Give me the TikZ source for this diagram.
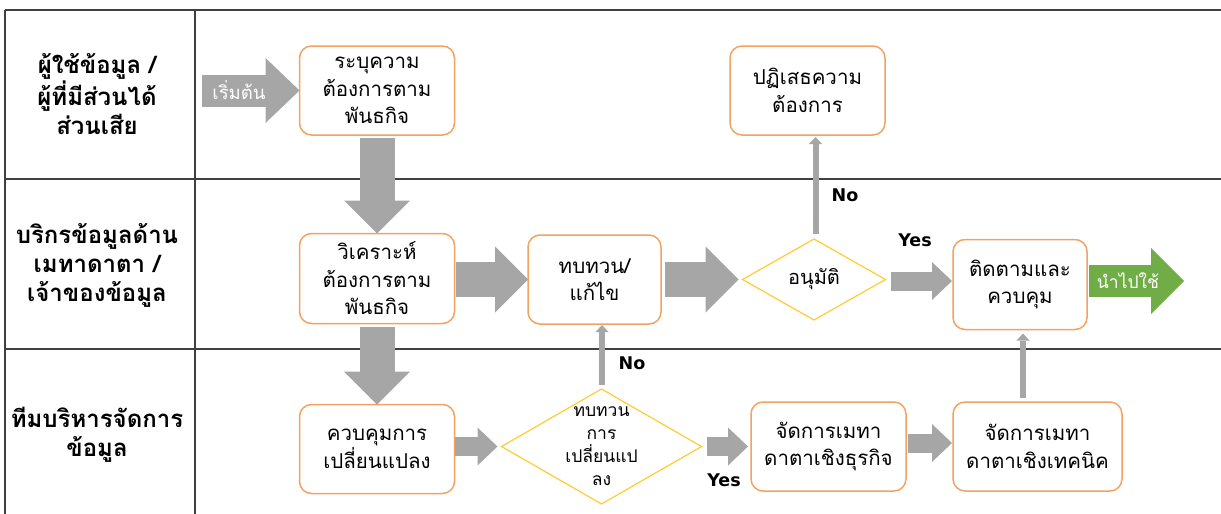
\documentclass[tikz,border=0pt]{standalone}
\usepackage{fontspec}
\usetikzlibrary{arrows.meta,shapes.geometric,calc}
\newfontfamily\thai[Script=Thai]{Loma}
\newfontfamily\labfont{DejaVu Sans}
\definecolor{boxor}{HTML}{F4A261}
\definecolor{diayel}{HTML}{FFCC33}
\definecolor{arrgray}{HTML}{A6A6A6}
\definecolor{arrgreen}{HTML}{70AD47}
\definecolor{gridc}{HTML}{404040}
\begin{document}
\begin{tikzpicture}[x=1pt,y=-1pt,
  grid/.style={draw=gridc,line width=1.3pt},
  rowlab/.style={align=center,font=\thai\bfseries\fontsize{24}{29}\selectfont},
  procbox/.style={draw=boxor,line width=1.5pt,rounded corners=12pt,fill=white,align=center,inner sep=0pt,outer sep=0pt,font=\thai\fontsize{20.5}{27.5}\selectfont},
  decbox/.style={diamond,draw=diayel,line width=1.2pt,fill=white,inner sep=0pt,outer sep=0pt},
  dtext/.style={align=center,inner sep=0pt,font=\thai\fontsize{17.5}{23}\selectfont},
  fatL/.style={draw=arrgray,line width=35pt,-{Triangle[length=33pt,width=66pt,line width=0pt]}},
  fatM/.style={draw=arrgray,line width=19pt,-{Triangle[length=20pt,width=38pt,line width=0pt]}},
  thinarr/.style={draw=arrgray,line width=6pt,-{Triangle[length=7pt,width=13pt,line width=0pt]}},
  yn/.style={font=\labfont\bfseries\fontsize{17.5}{19}\selectfont,inner sep=0pt},
  wtext/.style={text=white,inner sep=0pt,font=\thai\fontsize{17.5}{20}\selectfont}
]
\useasboundingbox (0,0) rectangle (1221,514);
% grid
\draw[grid] (5,10) -- (1221,10);
\draw[grid] (5,179) -- (1221,179);
\draw[grid] (5,349) -- (1221,349);
\draw[grid] (5,10) -- (5,514);
\draw[grid] (195,10) -- (195,514);
% row labels
\node[rowlab] (r1) at (97,94) {ผู้ใช้ข้อมูล /\\ผู้ที่มีส่วนได้\\ส่วนเสีย};
\node[rowlab] (r2) at (97,265) {บริกรข้อมูลด้าน\\เมทาดาตา /\\เจ้าของข้อมูล};
\node[rowlab] (r3) at (97,434.5) {ทีมบริหารจัดการ\\ข้อมูล};
% boxes
\node[procbox,minimum width=155,minimum height=89] (b1) at (377,90.5) {ระบุความ\\ต้องการตาม\\พันธกิจ};
\node[procbox,minimum width=155,minimum height=90] (b2) at (377,278.5) {วิเคราะห์\\ต้องการตาม\\พันธกิจ};
\node[procbox,minimum width=155,minimum height=89] (b3) at (377,449) {ควบคุมการ\\เปลี่ยนแปลง};
\node[procbox,minimum width=133,minimum height=89] (b4) at (594.5,279.5) {ทบทวน/\\แก้ไข};
\node[procbox,minimum width=155,minimum height=89] (b5) at (807.5,90.5) {ปฏิเสธความ\\ต้องการ};
\node[procbox,minimum width=134,minimum height=90] (b6) at (1020,284.5) {ติดตามและ\\ควบคุม};
\node[procbox,minimum width=155,minimum height=89] (b7) at (828.5,446.5) {จัดการเมทา\\ดาตาเชิงธุรกิจ};
\node[procbox,minimum width=169,minimum height=89] (b8) at (1037.5,446.5) {จัดการเมทา\\ดาตาเชิงเทคนิค};
% decisions
\node[decbox,minimum width=143,minimum height=81,label={[dtext,font=\thai\fontsize{20}{23}\selectfont]center:อนุมัติ}] (d1) at (814,279.5) {};
\node[decbox,minimum width=200,minimum height=115,label={[dtext]center:ทบทวน\\การ\\เปลี่ยนแป\\ลง}] (d2) at (601.5,446.5) {};
% start arrow
\coordinate (st) at (202,90.5);
\draw[draw=arrgray,line width=32pt,-{Triangle[length=34pt,width=65pt,line width=0pt]}] (st) -- (b1.west);
\node[wtext,font=\thai\fontsize{18.5}{20}\selectfont] (stt) at (239,90) {เริ่มต้น};
% end arrow
\coordinate (en) at (1184,281);
\draw[draw=arrgreen,line width=32pt,-{Triangle[length=33pt,width=66pt,line width=0pt]}] ($(b6.east |- en)+(2,0)$) -- (en);
\node[wtext] (ent) at (1128,281) {นำไปใช้};
% fat arrows
\draw[fatL] ($(b1.south)+(0,3)$) -- (b2.north);
\draw[fatL] ($(b2.south)+(0,3)$) -- (b3.north);
\draw[fatL] ($(b2.east)+(1,1)$) -- ($(b4.west)+(0,0)$);
\draw[fatL] ($(b4.east)+(4,0)$) -- ($(d1.west)+(-4,0)$);
\draw[fatM] ($(d1.east)+(5,1.5)$) -- ($(b6.west |- d1.east)+(-1,1.5)$);
\draw[fatM] ($(b3.east |- d2.west)+(0,0)$) -- ($(d2.west)+(-4,0)$);
\draw[fatM] ($(d2.east)+(5,0)$) -- ($(b7.west |- d2.east)+(-3,0)$);
\draw[fatM] ($(b7.east)+(2,-3.5)$) -- ($(b8.west |- b7.east)+(-1,-3.5)$);
% thin arrows
\draw[thinarr] ($(d1.north)+(1.5,-5)$) -- ($(d1.north |- b5.south)+(1.5,2)$);
\draw[thinarr] ($(d2.north)+(0.5,-4)$) -- ($(d2.north |- b4.south)+(0.5,1)$);
\draw[thinarr] ($(b6.south |- b8.north)+(3,-4)$) -- ($(b6.south)+(3,4)$);
% labels
\node[yn] (n1) at (845,195) {No};
\node[yn] (n2) at (632,363) {No};
\node[yn] (y1) at (915,240) {Yes};
\node[yn] (y2) at (724,480) {Yes};
\end{tikzpicture}
\end{document}
